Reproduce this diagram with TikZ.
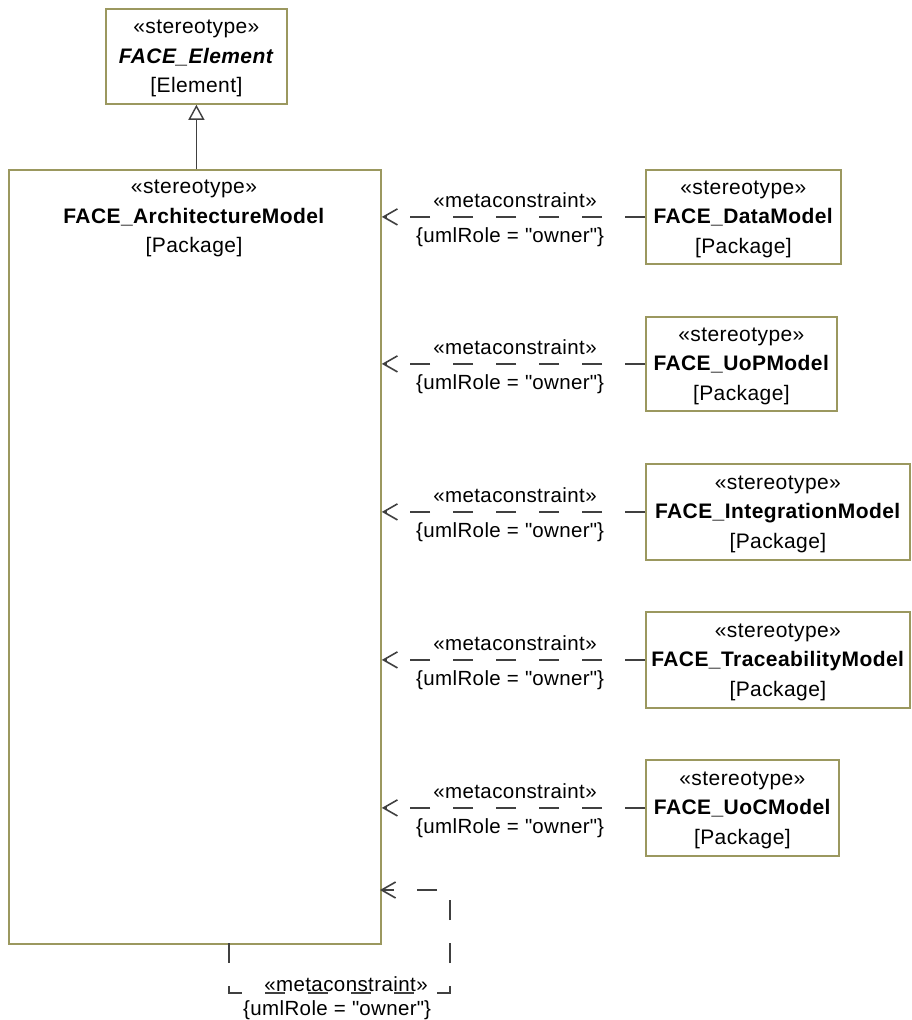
\documentclass[tikz,border=0pt]{standalone}
\usepackage{fontspec}
\setmainfont{Liberation Sans}[LetterSpace=2]
\usetikzlibrary{arrows.meta,calc}
\definecolor{boxc}{RGB}{155,152,95}
\definecolor{linec}{RGB}{64,64,64}
\begin{document}
\begin{tikzpicture}[x=1pt,y=-1pt,
  box/.style={draw=boxc, line width=1.8pt, fill=white, inner sep=0pt},
  txt/.style={font=\fontsize{21}{29.5}\selectfont, align=center, inner sep=0pt, yshift=-2pt},
  lbl/.style={font=\fontsize{20.5}{24}\selectfont, inner sep=0pt},
  dep/.style={draw=linec, line width=1.7pt, dash pattern=on 20pt off 23pt,
    -{Straight Barb[length=14pt,width=16pt,line width=1.6pt]}},
  gen/.style={draw=linec, line width=1.8pt,
    -{Triangle[open,length=15pt,width=16pt,line width=1.4pt,fill=white]}},
]
\useasboundingbox (0,0) rectangle (911,1020);
% boxes
\node[box, minimum width=181pt, minimum height=95pt, anchor=north west] (elem) at (105,8) {};
\node[txt] (elemt) at (elem.center) {«stereotype»\\\textbf{\textit{FACE\_Element}}\\{[Element]}};
\node[box, minimum width=372pt, minimum height=774pt, anchor=north west] (arch) at (8,169) {};
\node[txt, anchor=north] (archt) at (194,178) {«stereotype»\\\textbf{FACE\_ArchitectureModel}\\{[Package]}};
\node[box, minimum width=195pt, minimum height=94pt, anchor=north west] (data) at (645,169) {};
\node[txt] (datat) at (data.center) {«stereotype»\\\textbf{FACE\_DataModel}\\{[Package]}};
\node[box, minimum width=191pt, minimum height=94pt, anchor=north west] (uop) at (645,316) {};
\node[txt] (uopt) at (uop.center) {«stereotype»\\\textbf{FACE\_UoPModel}\\{[Package]}};
\node[box, minimum width=264pt, minimum height=96pt, anchor=north west] (integ) at (645,463) {};
\node[txt] (integt) at (integ.center) {«stereotype»\\\textbf{FACE\_IntegrationModel}\\{[Package]}};
\node[box, minimum width=264pt, minimum height=96pt, anchor=north west] (trace) at (645,611) {};
\node[txt] (tracet) at (trace.center) {«stereotype»\\\textbf{FACE\_TraceabilityModel}\\{[Package]}};
\node[box, minimum width=193pt, minimum height=96pt, anchor=north west] (uoc) at (645,759) {};
\node[txt] (uoct) at (uoc.center) {«stereotype»\\\textbf{FACE\_UoCModel}\\{[Package]}};
% generalization
\draw[gen] (elem.south |- arch.north) -- (elem.south);
% dependencies
\foreach \b/\y in {data/216,uop/363,integ/511,trace/659,uoc/807}{
  \draw[dep] (\b.west) -- (\b.west -| arch.east);
  \node[lbl] (m-\b) at (515,\y-16) {«metaconstraint»};
  \node[lbl] (r-\b) at (510,\y+21) {\{umlRole = \textquotedbl owner\textquotedbl\}};
}
% self loop
\coordinate (lpA) at (229,943);
\coordinate (lpB) at (450,993);
\coordinate (lpC) at (380,890);
\draw[dep] (lpA) |- (lpB) |- (lpC);
\node[lbl] (m-self) at (346,984) {«metaconstraint»};
\node[lbl] (r-self) at (337,1010) {\{umlRole = \textquotedbl owner\textquotedbl\}};
\end{tikzpicture}
\end{document}
